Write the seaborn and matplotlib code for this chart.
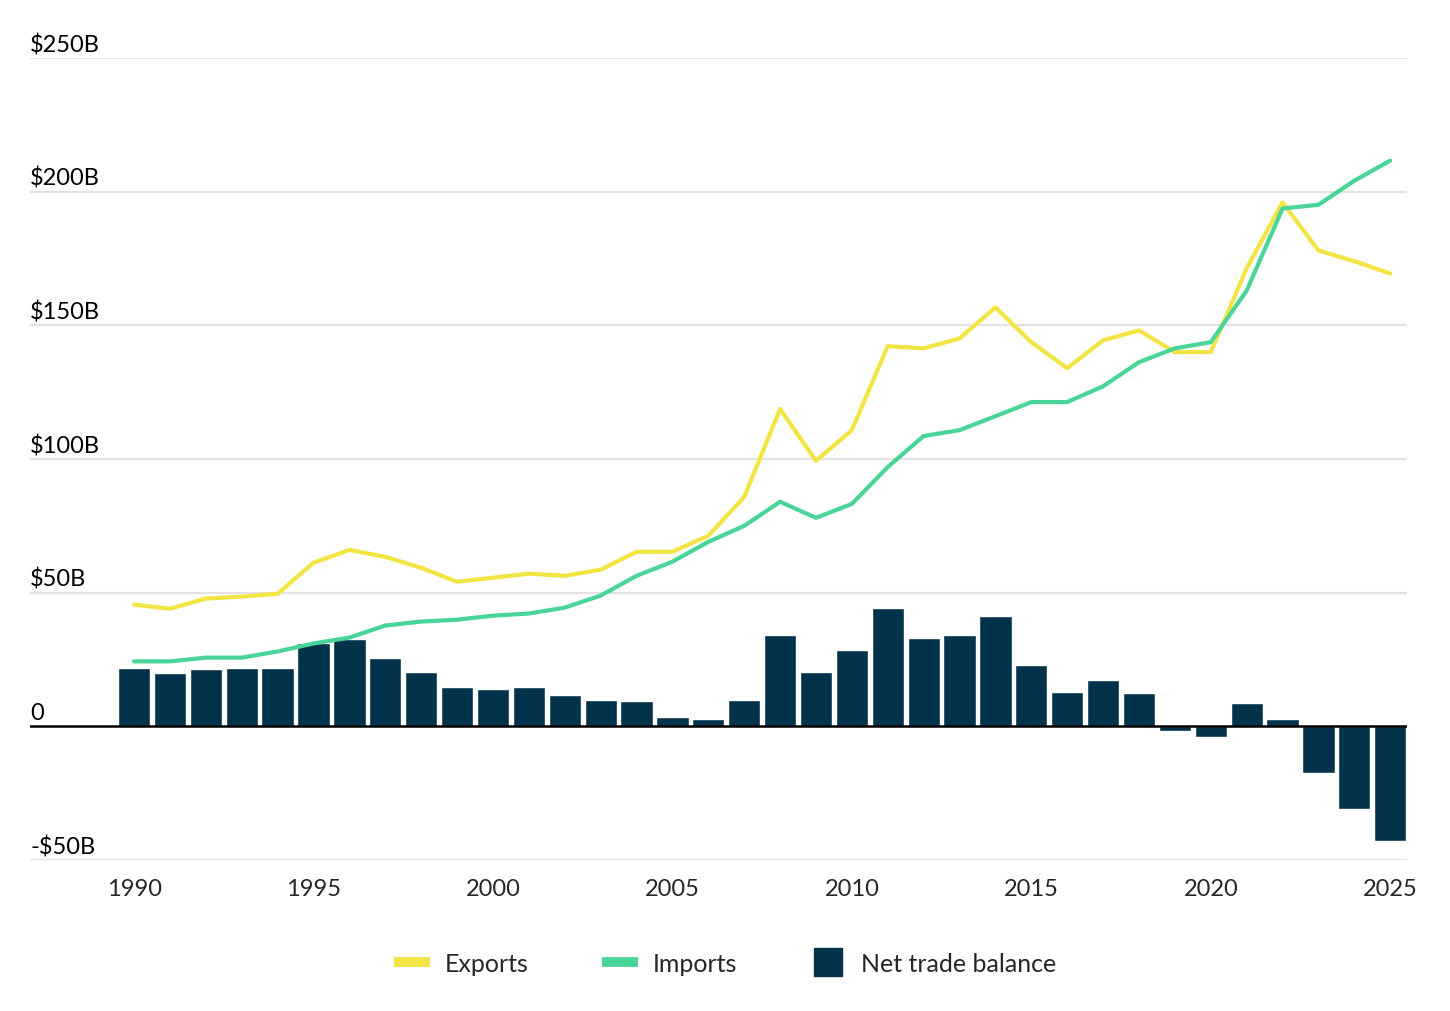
import numpy as np
import pandas as pd

import matplotlib
matplotlib.use('Agg')
import matplotlib.pyplot as plt
import matplotlib.transforms as mtransforms
from matplotlib.lines import Line2D
import seaborn as sns


# 데이터 (단위: 십억 달러)
years = list(range(1990, 2026))
exports = [45.5, 44.0, 47.8, 48.5, 49.6, 61.2, 66.0, 63.4, 59.3, 54.1,
           55.6, 57.1, 56.3, 58.6, 65.3, 65.3, 71.3, 85.8, 118.7, 99.3,
           110.8, 142.2, 141.4, 145.1, 156.7, 143.7, 134.0, 144.4, 148.1, 140.0,
           140.0, 171.3, 196.0, 178.0, 174.0, 169.4]
imports = [24.3, 24.3, 25.7, 25.7, 28.0, 31.0, 33.2, 37.7, 39.2, 39.9,
           41.4, 42.2, 44.4, 48.9, 56.3, 61.6, 69.0, 75.0, 84.0, 78.0,
           83.2, 97.0, 108.6, 110.8, 116.0, 121.3, 121.3, 127.2, 136.2, 141.4,
           143.7, 163.0, 193.7, 195.1, 204.1, 211.6]
net_balance = [22.0, 19.8, 21.3, 22.0, 22.0, 31.0, 32.5, 25.7, 20.5, 14.6,
               13.8, 14.6, 11.6, 10.0, 9.3, 3.4, 2.6, 10.0, 34.0, 20.5,
               28.7, 44.4, 33.2, 34.0, 41.4, 22.8, 13.0, 17.5, 12.3, -1.9,
               -4.1, 8.6, 2.6, -17.5, -31.0, -43.0]

y_ticks = [-50, 0, 50, 100, 150, 200, 250]
y_tick_labels = ['-$50B', '0', '$50B', '$100B', '$150B', '$200B', '$250B']
x_ticks = [1990, 1995, 2000, 2005, 2010, 2015, 2020, 2025]

df = pd.DataFrame({'year': years, 'exports': exports,
                   'imports': imports, 'net': net_balance})

# 컬러
c_exp = '#F2E443'
c_imp = '#48D597'
c_net = '#02334A'

sns.set_style('white')
plt.rcParams['font.family'] = ['Lato', 'DejaVu Sans']

fig = plt.figure(figsize=(14.5, 10.12), dpi=100)
ax = fig.add_axes([0.0207, 0.1492, 0.9497, 0.7925])

# 그리드 라인
for v in y_ticks:
    if v == 0:
        continue
    ax.axhline(v, color='#E2E2E2', lw=1.6, zorder=0)

# 순무역수지 바차트
sns.barplot(data=df, x='year', y='net', native_scale=True, width=0.9,
            color=c_net, saturation=1, ax=ax, zorder=2)

ax.axhline(0, color='black', lw=1.8, zorder=3)

# 수출/수입 라인
sns.lineplot(data=df, x='year', y='exports', color=c_exp, lw=3, ax=ax, zorder=4)
sns.lineplot(data=df, x='year', y='imports', color=c_imp, lw=3, ax=ax, zorder=5)

ax.set_xlim(1987.10, 2025.47)
ax.set_ylim(-50, 250)
ax.set_xticks(x_ticks)
ax.set_xticklabels([str(x) for x in x_ticks])
ax.set_yticks([])
ax.set_xlabel('')
ax.set_ylabel('')
ax.tick_params(axis='x', length=0, pad=13, labelsize=17)
for s in ax.spines.values():
    s.set_visible(False)

# y축 라벨 (그리드 라인 위)
trans = mtransforms.blended_transform_factory(ax.transAxes, ax.transData)
for v, lab in zip(y_ticks, y_tick_labels):
    ax.annotate(lab, xy=(0, v), xycoords=trans, xytext=(0, 5),
                textcoords='offset points', ha='left', va='baseline',
                fontsize=17, color='black')

# 범례
handles = [Line2D([], [], color=c_exp, lw=7, solid_capstyle='butt'),
           Line2D([], [], color=c_imp, lw=7, solid_capstyle='butt'),
           Line2D([], [], color=c_net, lw=0, marker='s', markersize=20)]
fig.legend(handles, ['Exports', 'Imports', 'Net trade balance'],
           loc='center', bbox_to_anchor=(0.5, 0.047), ncol=3, frameon=False,
           fontsize=18, handlelength=1.45, handletextpad=0.6, columnspacing=2.9)

fig.savefig('out.png', dpi=100)
